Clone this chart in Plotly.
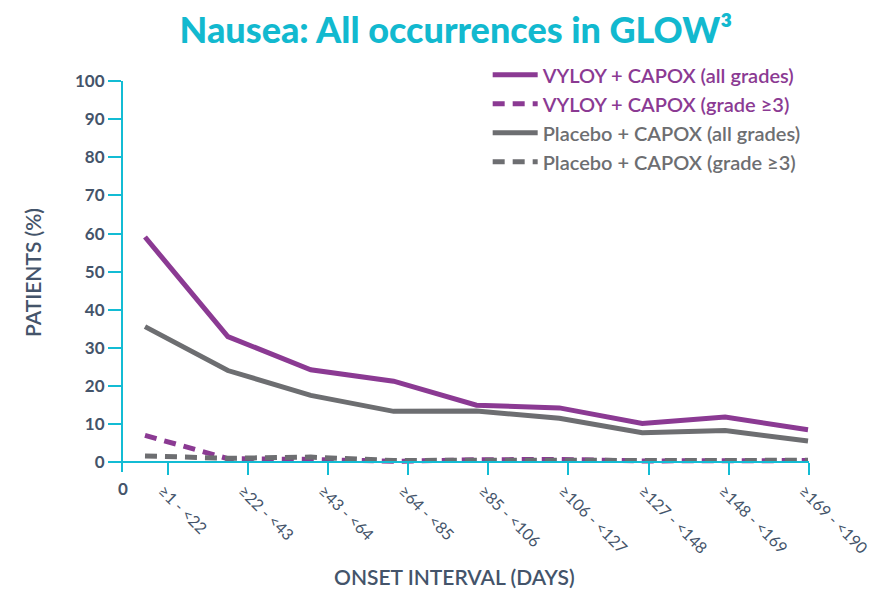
import plotly.graph_objects as go

categories = ["≥1 - <22", "≥22 - <43", "≥43 - <64", "≥64 - <85", "≥85 - <106",
              "≥106 - <127", "≥127 - <148", "≥148 - <169", "≥169 - <190"]
vyloy_all = [59.1, 33.0, 24.3, 21.3, 15.0, 14.3, 10.2, 11.9, 8.6]
vyloy_g3 = [7.1, 1.0, 0.8, 0.3, 0.7, 0.8, 0.4, 0.5, 0.5]
placebo_all = [35.6, 24.1, 17.6, 13.4, 13.5, 11.6, 7.8, 8.4, 5.6]
placebo_g3 = [1.7, 1.1, 1.4, 0.5, 0.6, 0.5, 0.4, 0.5, 0.6]
y_ticks = [0, 10, 20, 30, 40, 50, 60, 70, 80, 90, 100]

PURPLE = "#8B3A93"
GRAY = "#6D6E71"
CYAN = "#13BCD4"
SLATE = "#44546A"
FONT = "Lato"

xs = list(range(len(categories)))
tick_offset = 0.2775
tick_step = 0.9665
tickvals = [tick_offset + tick_step * i for i in xs]

fig = go.Figure()

def add(y, color, dash, name):
    fig.add_trace(go.Scatter(
        x=xs, y=y, mode="lines",
        line=dict(color=color, width=5, dash=dash),
        name=f'<span style="color:{color}">{name}</span>',
        cliponaxis=False,
    ))

add(vyloy_all, PURPLE, "solid", "VYLOY + CAPOX (all grades)")
add(vyloy_g3, PURPLE, "12px,8px", "VYLOY + CAPOX (grade ≥3)")
add(placebo_all, GRAY, "solid", "Placebo + CAPOX (all grades)")
add(placebo_g3, GRAY, "12px,8px", "Placebo + CAPOX (grade ≥3)")

# page has an 8px body margin, so the figure is 8px smaller and shifted
fig.update_layout(
    width=868, height=581,
    margin=dict(l=104, r=67, t=73, b=117, autoexpand=False),
    paper_bgcolor="white", plot_bgcolor="white",
    font=dict(family=FONT, color=SLATE),
    title=dict(
        text="Nausea: All occurrences in GLOW³",
        x=0.516, xanchor="center", y=0.962, yanchor="middle",
        font=dict(family=FONT, size=36, color="#12B9CF", weight=900),
        automargin=False,
    ),
    showlegend=True,
    legend=dict(
        x=0.539, y=1.066, xanchor="left", yanchor="top",
        font=dict(family=FONT, size=20, weight=600),
        bgcolor="rgba(0,0,0,0)", tracegroupgap=0,
        itemwidth=45,
    ),
    xaxis=dict(
        range=[-0.398, 8.012],
        tickmode="array", tickvals=tickvals, ticktext=categories,
        tickangle=45, ticklabeloverflow="allow", ticklabelshift=-5,
        showline=True, linecolor=CYAN, linewidth=2,
        ticks="outside", ticklen=12, tickcolor=CYAN, tickwidth=2,
        showgrid=False, zeroline=False,
        anchor="free", position=2.5 / 102.5,
        tickfont=dict(family=FONT, size=16, color=SLATE),
        automargin=False,
    ),
    yaxis=dict(
        range=[-2.5, 100],
        tickmode="array", tickvals=y_ticks,
        showline=True, linecolor=CYAN, linewidth=2,
        ticks="outside", ticklen=13, tickcolor=CYAN, tickwidth=2,
        showgrid=False, zeroline=False,
        anchor="free", position=10 / 697,
        tickfont=dict(family=FONT, size=17, color=SLATE, weight=700),
        automargin=False,
    ),
)

fig.add_annotation(
    x=0.0158, y=-0.041, xref="paper", yref="paper", text="0", showarrow=False,
    xanchor="center", yanchor="middle",
    font=dict(family=FONT, size=17, color=SLATE, weight=700),
)
fig.add_annotation(
    x=0.492, y=-0.2685, xref="paper", yref="paper", text="ONSET INTERVAL (DAYS)",
    showarrow=False, xanchor="center", yanchor="middle",
    font=dict(family=FONT, size=21, color=SLATE, weight=600),
)
fig.add_annotation(
    x=-0.1133, y=0.509, xref="paper", yref="paper", text="PATIENTS (%)",
    showarrow=False, xanchor="center", yanchor="middle", textangle=-90,
    font=dict(family=FONT, size=21, color=SLATE, weight=600),
)

fig.write_html("out.html")
